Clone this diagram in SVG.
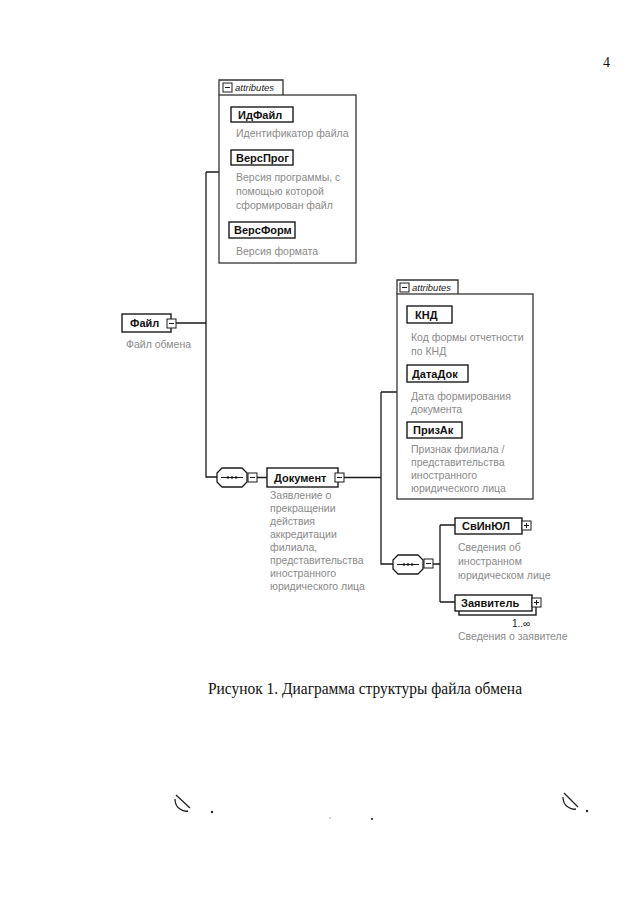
<svg xmlns="http://www.w3.org/2000/svg" width="640" height="905" viewBox="0 0 640 905">
<style>
.box{fill:#fff;stroke:#1a1a1a;stroke-width:1.4}
.cont{fill:none;stroke:#333;stroke-width:1.3}
.conn{fill:none;stroke:#1a1a1a;stroke-width:1.3}
.lbl{font-family:"Liberation Sans",Arial,sans-serif;font-weight:bold;font-size:11px;fill:#111}
.desc{font-family:"Liberation Sans",Arial,sans-serif;font-size:10.5px;fill:#8a8a8a}
.att{font-family:"Liberation Sans",Arial,sans-serif;font-style:italic;font-size:9.5px;fill:#222}
.sq{fill:#fff;stroke:#1a1a1a;stroke-width:1}
.sign{fill:none;stroke:#222;stroke-width:1.3}
</style>
<defs>
<g id="minus"><rect class="sq" x="0" y="0" width="9" height="9"/><path d="M2,4.5H7" stroke="#1a1a1a" stroke-width="1"/></g>
<g id="plus"><rect class="sq" x="0" y="0" width="9" height="9"/><path d="M2,4.5H7M4.5,2V7" stroke="#1a1a1a" stroke-width="1"/></g>
<g id="seq"><path d="M5,0H25L30,5V14L25,19H5L0,14V5Z" fill="#fff" stroke="#1a1a1a" stroke-width="1.3"/><path d="M4,9.5H26" stroke="#1a1a1a" stroke-width="1"/><circle cx="11" cy="9.5" r="1.3" fill="#1a1a1a"/><circle cx="15" cy="9.5" r="1.3" fill="#1a1a1a"/><circle cx="19" cy="9.5" r="1.3" fill="#1a1a1a"/></g>
</defs>
<rect width="640" height="905" fill="#fff"/>
<text x="603" y="67" font-family="'Liberation Serif',serif" font-size="14" fill="#111">4</text>

<g id="connectors">
<path class="conn" d="M176,323H206M206,172V477H217M206,172H219"/>
<path class="conn" d="M257,477.5H267M344,477.5H381M381,392V564H393M381,392H397"/>
<path class="conn" d="M433,564H440M440,525V602M440,525H455M440,602H455"/>
</g>

<g id="attributes1">
<path class="cont" d="M219,95V80H283V95"/>
<rect class="cont" x="219" y="95" width="137" height="168"/>
<use href="#minus" x="223" y="83"/>
<text class="att" x="235" y="91">attributes</text>
</g>
<g id="IdFajl">
<rect class="box" x="231" y="107" width="62" height="15"/>
<text class="lbl" x="238" y="119">ИдФайл</text>
<text class="desc" x="236" y="137">Идентификатор файла</text>
</g>
<g id="VersProg">
<rect class="box" x="231" y="150" width="62" height="15"/>
<text class="lbl" x="236" y="162">ВерсПрог</text>
<text class="desc" x="236" y="181">Версия программы, с</text>
<text class="desc" x="236" y="195">помощью которой</text>
<text class="desc" x="236" y="209">сформирован файл</text>
</g>
<g id="VersForm">
<rect class="box" x="229" y="222" width="66" height="16"/>
<text class="lbl" x="234" y="234">ВерсФорм</text>
<text class="desc" x="236" y="255">Версия формата</text>
</g>

<g id="Fajl">
<rect class="box" x="122" y="314" width="49" height="18"/>
<text class="lbl" x="130" y="327">Файл</text>
<use href="#minus" x="167" y="319"/>
<text class="desc" x="126" y="348">Файл обмена</text>
</g>

<g id="seq1"><use href="#seq" x="217" y="468"/><use href="#minus" x="248" y="473"/></g>

<g id="Dokument">
<rect class="box" x="267" y="468" width="71" height="19"/>
<text class="lbl" x="274" y="482">Документ</text>
<use href="#minus" x="335" y="473"/>
<text class="desc" x="270" y="499">Заявление о</text>
<text class="desc" x="270" y="512">прекращении</text>
<text class="desc" x="270" y="525">действия</text>
<text class="desc" x="270" y="538">аккредитации</text>
<text class="desc" x="270" y="551">филиала,</text>
<text class="desc" x="270" y="564">представительства</text>
<text class="desc" x="270" y="577">иностранного</text>
<text class="desc" x="270" y="590">юридического лица</text>
</g>

<g id="attributes2">
<path class="cont" d="M397,294V280H458V294"/>
<rect class="cont" x="397" y="294" width="136" height="205"/>
<use href="#minus" x="400" y="283"/>
<text class="att" x="412" y="291">attributes</text>
</g>
<g id="KND">
<rect class="box" x="407" y="306" width="45" height="17"/>
<text class="lbl" x="415" y="319">КНД</text>
<text class="desc" x="411" y="341">Код формы отчетности</text>
<text class="desc" x="411" y="355">по КНД</text>
</g>
<g id="DataDok">
<rect class="box" x="407" y="365" width="61" height="17"/>
<text class="lbl" x="412" y="378">ДатаДок</text>
<text class="desc" x="411" y="400">Дата формирования</text>
<text class="desc" x="411" y="413">документа</text>
</g>
<g id="PrizAk">
<rect class="box" x="407" y="422" width="55" height="16"/>
<text class="lbl" x="413" y="434">ПризАк</text>
<text class="desc" x="411" y="453">Признак филиала /</text>
<text class="desc" x="411" y="466">представительства</text>
<text class="desc" x="411" y="479">иностранного</text>
<text class="desc" x="411" y="492">юридического лица</text>
</g>

<g id="seq2"><use href="#seq" x="393" y="555"/><use href="#minus" x="424" y="559"/></g>

<g id="SvInYuL">
<rect class="box" x="455" y="518" width="67" height="16"/>
<text class="lbl" x="462" y="530">СвИнЮЛ</text>
<use href="#plus" x="522" y="521"/>
<text class="desc" x="458" y="551">Сведения об</text>
<text class="desc" x="458" y="565">иностранном</text>
<text class="desc" x="458" y="579">юридическом лице</text>
</g>

<g id="Zayavitel">
<rect class="box" x="459" y="599" width="77" height="16"/>
<rect class="box" x="455" y="595" width="77" height="16"/>
<text class="lbl" x="461" y="607">Заявитель</text>
<use href="#plus" x="532" y="598"/>
<text x="512" y="627" font-family="'Liberation Sans',Arial,sans-serif" font-size="10" fill="#222">1..∞</text>
<text class="desc" x="458" y="640">Сведения о заявителе</text>
</g>

<text x="208" y="694" font-family="'Liberation Serif','Times New Roman',serif" font-size="16" textLength="314" lengthAdjust="spacingAndGlyphs" fill="#111">Рисунок 1. Диаграмма структуры файла обмена</text>

<g id="marks">
<path class="sign" d="M176,795L190,808M175,799Q175,806 180,809Q184,812 188,811"/>
<circle cx="212" cy="812" r="1.2" fill="#222"/>
<circle cx="372" cy="819" r="1.1" fill="#222"/>
<circle cx="330" cy="818" r="0.8" fill="#999"/>
<path class="sign" d="M564,793L578,807M563,797Q563,804 568,807Q572,810 576,809"/>
<circle cx="587" cy="811" r="1.2" fill="#222"/>
</g>
</svg>
